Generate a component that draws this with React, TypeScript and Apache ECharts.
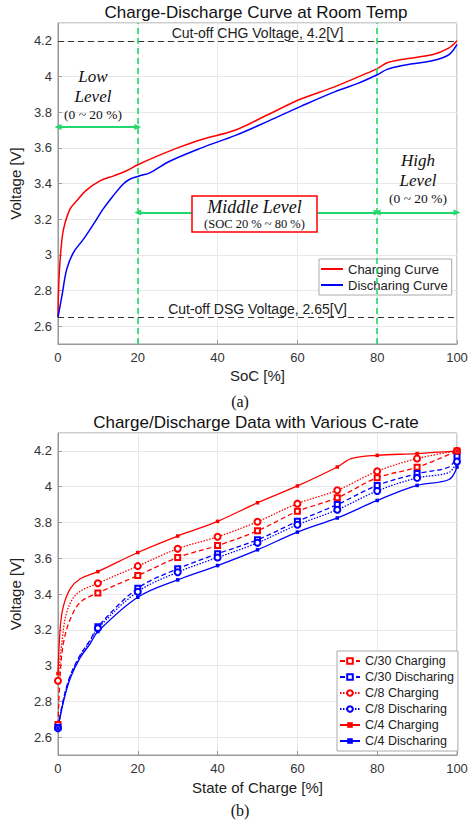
import React, { useEffect, useRef } from 'react';
import * as echarts from 'echarts';

// ---------- (a) Charge-Discharge Curve at Room Temp ----------
const topChargeSoc = [0, 0.25, 0.75, 1.4, 3, 4.7, 7, 10.5, 14, 17, 20, 25, 30, 36, 44.5, 52.7, 61, 69.3, 77.6, 80, 82.5, 86, 94, 98, 100];
const topChargeV = [2.65, 2.865, 3.03, 3.144, 3.256, 3.303, 3.36, 3.415, 3.443, 3.47, 3.505, 3.555, 3.6, 3.647, 3.7, 3.787, 3.875, 3.942, 4.02, 4.044, 4.077, 4.095, 4.123, 4.16, 4.2];
const topDischargeSoc = [0, 1, 2.2, 3.9, 6.4, 8.9, 11.3, 13.8, 16.3, 18, 20.5, 23, 28, 36, 44.5, 52.7, 61, 69.3, 75, 80, 82.5, 86, 94, 98, 100];
const topDischargeV = [2.65, 2.771, 2.92, 3.014, 3.088, 3.172, 3.256, 3.33, 3.396, 3.424, 3.443, 3.46, 3.525, 3.6, 3.67, 3.75, 3.834, 3.914, 3.96, 4.01, 4.04, 4.06, 4.09, 4.123, 4.18];

const chgCutoff = 4.2;
const dsgCutoff = 2.65;
const lowArrowV = 3.717;
const midArrowV = 3.238;
const levelBounds = [0, 20, 80, 100];

// ---------- (b) Charge/Discharge Data with Various C-rate ----------
const markerSoc = [0, 10, 20, 30, 40, 50, 60, 70, 80, 90, 100];

const c30ChgSoc = [0, 0.6, 1.4, 3.1, 5.6, 10, 20, 30, 40, 50, 60, 70, 80, 90, 100];
const c30ChgV = [2.67, 2.962, 3.13, 3.26, 3.354, 3.406, 3.503, 3.604, 3.671, 3.753, 3.862, 3.938, 4.05, 4.108, 4.2];

const c8ChgSoc = [0, 1, 2.2, 4.7, 10, 20, 30, 40, 50, 60, 70, 80, 90, 100];
const c8ChgV = [2.915, 3.13, 3.298, 3.4, 3.46, 3.556, 3.653, 3.72, 3.804, 3.905, 3.98, 4.086, 4.157, 4.2];

const c4ChgSoc = [0, 0.6, 1.4, 3.1, 5.6, 10, 20, 30, 40, 50, 60, 70, 73.5, 80, 90, 100];
const c4ChgV = [2.955, 3.22, 3.335, 3.43, 3.485, 3.525, 3.632, 3.724, 3.806, 3.91, 4.004, 4.11, 4.157, 4.175, 4.185, 4.2];

const disSoc = [0, 1.4, 3.1, 5.6, 8, 10, 20, 30, 40, 50, 60, 70, 80, 90, 98, 100];
const c30DisV = [2.655, 2.815, 2.945, 3.06, 3.14, 3.217, 3.432, 3.541, 3.625, 3.703, 3.806, 3.9, 4.007, 4.073, 4.11, 4.17];
const c8DisV = [2.65, 2.81, 2.94, 3.055, 3.135, 3.208, 3.413, 3.522, 3.604, 3.686, 3.787, 3.871, 3.976, 4.049, 4.08, 4.14];
const c4DisV = [2.65, 2.8, 2.93, 3.045, 3.12, 3.19, 3.382, 3.479, 3.559, 3.647, 3.746, 3.825, 3.923, 4.007, 4.04, 4.11];

const FONT = "'Liberation Sans', Arial, sans-serif";
const SERIF = "'Liberation Serif', 'Times New Roman', serif";
const RED = '#ff0000';
const BLUE = '#0000ff';
const GREEN = '#22d86c';
const AXIS = '#9a9a9a';
const SMOOTH = 0.35;

const pairs = (s: number[], v: number[]) => s.map((x, i) => [x, v[i]]);
const marked = (s: number[], v: number[]) =>
  s.map((x, i) => (markerSoc.includes(x) ? [x, v[i]] : { value: [x, v[i]], symbol: 'none' }));

const xAxisFor = (gi: number, name: string, gap: number) => ({
  type: 'value', gridIndex: gi, min: 0, max: 100, interval: 20,
  name, nameLocation: 'middle', nameGap: gap,
  nameTextStyle: { fontSize: 15, color: '#222', fontFamily: FONT },
  axisLine: { show: true, lineStyle: { color: AXIS } },
  axisTick: { show: true, inside: true, length: 4, lineStyle: { color: AXIS } },
  axisLabel: { fontSize: 13, color: '#333', margin: 7, fontFamily: FONT },
  splitLine: { show: true, lineStyle: { color: '#e8e8e8' } },
});

const yAxisFor = (gi: number) => ({
  type: 'value', gridIndex: gi, min: 2.5, max: 4.3, splitNumber: 9,
  name: 'Voltage [V]', nameLocation: 'middle', nameGap: 28,
  nameTextStyle: { fontSize: 15, color: '#222', fontFamily: FONT },
  axisLine: { show: true, lineStyle: { color: AXIS } },
  axisTick: { show: true, inside: true, length: 4, lineStyle: { color: AXIS } },
  axisLabel: { fontSize: 13, color: '#333', margin: 6, showMinLabel: false, showMaxLabel: false, fontFamily: FONT },
  splitLine: { show: true, lineStyle: { color: '#e8e8e8' } },
});

const arrowEnd = (x: number, y: number) => ({ coord: [x, y], symbol: 'triangle', symbolSize: [6, 7] });
const arrowLine = (x0: number, x1: number, y: number) => [arrowEnd(x0, y), arrowEnd(x1, y)];

const cutLabel = (text: string) => ({
  show: true, formatter: text, position: 'insideMiddleTop', color: '#222', fontSize: 14, distance: 1, fontFamily: FONT,
});

const txt = (text: string, x: number, y: number, font: string, extra: any = {}) => ({
  type: 'text', x, y, z: 101,
  style: { text, font, fill: '#111', textAlign: 'center', textVerticalAlign: 'middle', ...extra },
});

const bottomSeries = (name: string, s: number[], v: number[], color: string, type: any, symbol: string, size: number) => ({
  name, type: 'line', xAxisIndex: 1, yAxisIndex: 1,
  data: marked(s, v),
  symbol, symbolSize: size, showAllSymbol: true,
  smooth: SMOOTH,
  lineStyle: { color, width: 1.3, type },
  itemStyle: { color, borderWidth: 1.2 },
});

export default function App() {
  const ref = useRef<HTMLDivElement>(null);
  useEffect(() => {
    document.body.style.margin = '0';
    if (!ref.current) return;
    const chart = echarts.init(ref.current, undefined, { renderer: 'svg' });
    const option: any = {
      animation: false,
      textStyle: { fontFamily: FONT },
      title: [
        { text: 'Charge-Discharge Curve at Room Temp', left: 256, top: 4, padding: 0, textAlign: 'center',
          textStyle: { fontSize: 17, fontWeight: 'normal', color: '#111', fontFamily: FONT } },
        { text: 'Charge/Discharge Data with Various C-rate', left: 256, top: 414, padding: 0, textAlign: 'center',
          textStyle: { fontSize: 17, fontWeight: 'normal', color: '#111', fontFamily: FONT } },
      ],
      grid: [
        { left: 54, top: 23, width: 403, height: 321, show: true, borderColor: AXIS, borderWidth: 1, backgroundColor: '#fff' },
        { left: 54, top: 433, width: 403, height: 322, show: true, borderColor: AXIS, borderWidth: 1, backgroundColor: '#fff' },
      ],
      xAxis: [xAxisFor(0, 'SoC [%]', 24), xAxisFor(1, 'State of Charge [%]', 25)],
      yAxis: [yAxisFor(0), yAxisFor(1)],
      legend: [
        {
          data: ['Charging Curve', 'Discharing Curve'], orient: 'vertical', left: 319, top: 259,
          icon: 'rect', itemWidth: 22, itemHeight: 2, itemGap: 2, padding: [3, 4, 3, 2],
          borderColor: '#aaa', borderWidth: 1, borderRadius: 0, backgroundColor: '#fff',
          textStyle: { fontSize: 13, color: '#222', lineHeight: 14, fontFamily: FONT },
        },
        {
          data: ['C/30 Charging', 'C/30 Discharing', 'C/8 Charging', 'C/8 Discharing', 'C/4 Charging', 'C/4 Discharing'],
          orient: 'vertical', left: 337, top: 651,
          itemWidth: 20, itemHeight: 7, itemGap: 2, padding: [3, 4, 3, 2],
          borderColor: '#aaa', borderWidth: 1, borderRadius: 0, backgroundColor: '#fff',
          textStyle: { fontSize: 12.5, color: '#222', lineHeight: 14, fontFamily: FONT },
        },
      ],
      series: [
        {
          name: 'Charging Curve', type: 'line', xAxisIndex: 0, yAxisIndex: 0,
          data: pairs(topChargeSoc, topChargeV), symbol: 'none', showSymbol: false,
          smooth: SMOOTH, z: 3,
          lineStyle: { color: RED, width: 1.5 }, itemStyle: { color: RED },
          markLine: {
            silent: true, symbol: ['none', 'none'], animation: false, z: 4,
            label: { show: false },
            data: [
              { yAxis: chgCutoff, lineStyle: { color: '#333', type: [6, 4], width: 1.2 }, label: cutLabel('Cut-off CHG Voltage, 4.2[V]') },
              { yAxis: dsgCutoff, lineStyle: { color: '#333', type: [6, 4], width: 1.2 }, label: cutLabel('Cut-off DSG Voltage, 2.65[V]') },
              { xAxis: levelBounds[1], lineStyle: { color: GREEN, type: [6, 4], width: 1.6 } },
              { xAxis: levelBounds[2], lineStyle: { color: GREEN, type: [6, 4], width: 1.6 } },
              arrowLine(levelBounds[0], levelBounds[1], lowArrowV),
              arrowLine(levelBounds[1], levelBounds[2], midArrowV),
              arrowLine(levelBounds[2], levelBounds[3], midArrowV),
            ].map((d: any) => Array.isArray(d)
              ? d.map((e: any) => ({ ...e, lineStyle: { color: GREEN, type: 'solid', width: 2 } }))
              : d),
          },
        },
        {
          name: 'Discharing Curve', type: 'line', xAxisIndex: 0, yAxisIndex: 0,
          data: pairs(topDischargeSoc, topDischargeV), symbol: 'none', showSymbol: false,
          smooth: SMOOTH, z: 3,
          lineStyle: { color: BLUE, width: 1.5 }, itemStyle: { color: BLUE },
        },
        bottomSeries('C/30 Charging', c30ChgSoc, c30ChgV, RED, [5, 3], 'emptyRect', 5),
        bottomSeries('C/30 Discharing', disSoc, c30DisV, BLUE, [5, 3], 'emptyRect', 5),
        bottomSeries('C/8 Charging', c8ChgSoc, c8ChgV, RED, [1.5, 1.5], 'emptyCircle', 6),
        bottomSeries('C/8 Discharing', disSoc, c8DisV, BLUE, [1.5, 1.5], 'emptyCircle', 6),
        bottomSeries('C/4 Charging', c4ChgSoc, c4ChgV, RED, 'solid', 'rect', 3.5),
        bottomSeries('C/4 Discharing', disSoc, c4DisV, BLUE, 'solid', 'rect', 3.5),
      ],
      graphic: [
        txt('Low', 93, 76, `italic 17px ${SERIF}`),
        txt('Level', 93, 96, `italic 17px ${SERIF}`),
        txt('(0 ~ 20 %)', 93, 114, `13.5px ${SERIF}`),
        txt('High', 418, 160, `italic 17px ${SERIF}`),
        txt('Level', 418, 180, `italic 17px ${SERIF}`),
        txt('(0 ~ 20 %)', 418, 198, `13.5px ${SERIF}`),
        { type: 'rect', z: 100, shape: { x: 192, y: 196, width: 125, height: 36 },
          style: { fill: '#fff', stroke: RED, lineWidth: 1.5 } },
        txt('Middle Level', 254.5, 207, `italic 18px ${SERIF}`),
        txt('(SOC 20 % ~ 80 %)', 254.5, 224, `12.5px ${SERIF}`),
        txt('(a)', 240, 401, `16px ${SERIF}`),
        txt('(b)', 240, 810, `16px ${SERIF}`),
      ],
    };
    chart.setOption(option);
    return () => chart.dispose();
  }, []);
  return <div ref={ref} style={{ width: 472, height: 822 }} />;
}
